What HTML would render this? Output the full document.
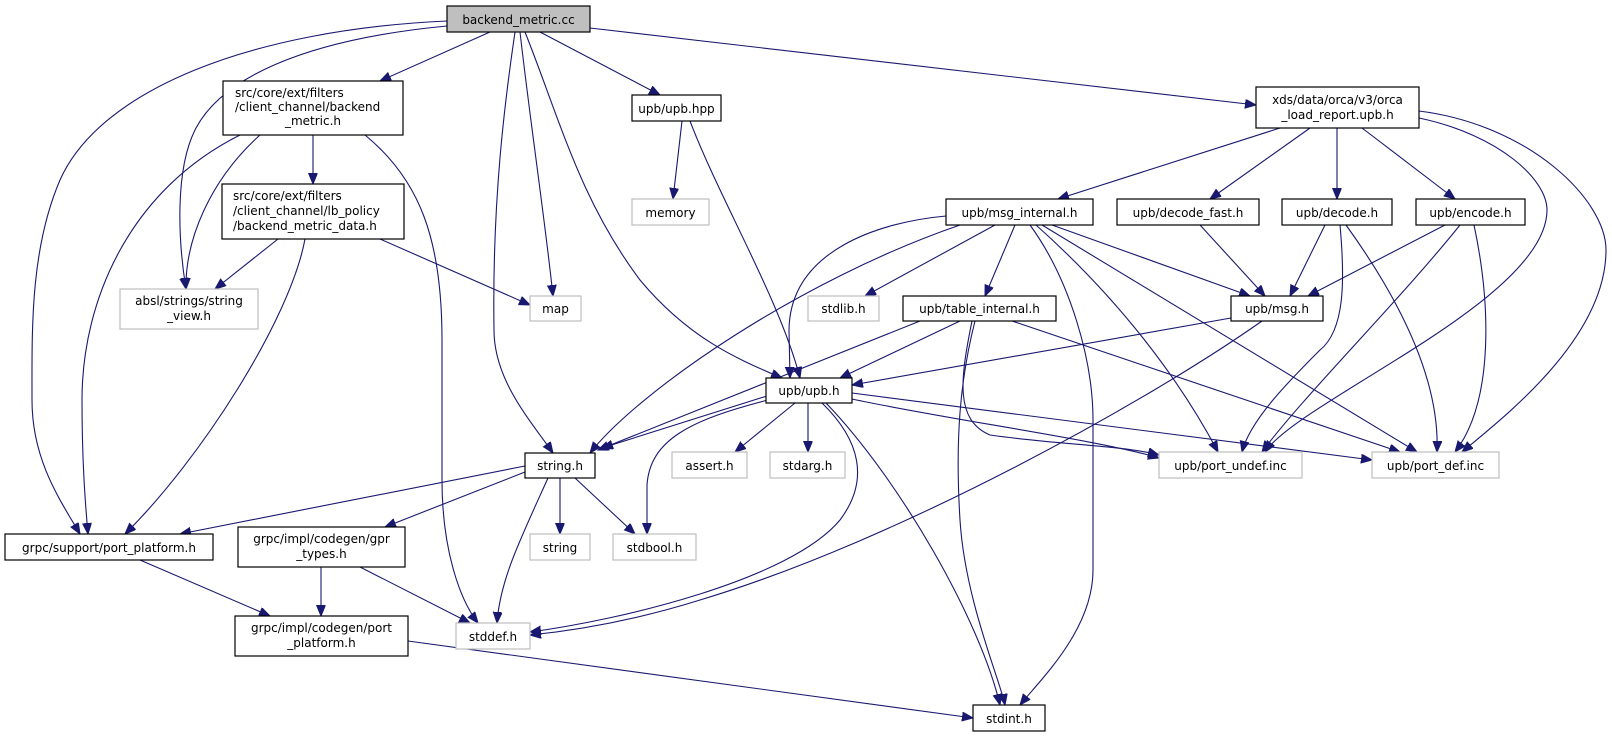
<!DOCTYPE html>
<html><head><meta charset="utf-8"><style>
html,body{margin:0;padding:0;background:#fff;}
svg{display:block;}
text{font-family:"DejaVu Sans","Liberation Sans",sans-serif;font-size:12px;fill:#000;}
.e{fill:none;stroke:#191970;stroke-width:1.1;marker-end:url(#a);}
.n{fill:#fff;stroke:#000;stroke-width:1.2;}
.g{fill:#fff;stroke:#bfbfbf;stroke-width:1.2;}
</style></head><body>
<svg width="1612" height="737" viewBox="0 0 1612 737" xmlns="http://www.w3.org/2000/svg">
<defs><marker id="a" markerUnits="userSpaceOnUse" markerWidth="12" markerHeight="10" refX="11" refY="4.5" orient="auto"><path d="M0,0 L11,4.5 L0,9 z" fill="#191970" stroke="#191970"/></marker></defs>
<path class="e" d="M447,21 C250,30 100,90 60,180 C30,250 32,330 32,400 C32,460 60,500 80,534"/>
<path class="e" d="M447,26 C300,40 220,80 195,130 C175,170 178,240 186,289"/>
<path class="e" d="M490,32 L380,81"/>
<path class="e" d="M515,32 C505,100 492,200 494,330 C494,380 530,420 553,453"/>
<path class="e" d="M520,32 C530,120 545,220 553,296"/>
<path class="e" d="M525,32 C560,120 580,200 640,280 C690,340 740,360 782,378"/>
<path class="e" d="M540,32 L660,95"/>
<path class="e" d="M590,28 L1256,105"/>
<path class="e" d="M240,135 C130,190 82,300 82,400 C82,460 85,500 88,534"/>
<path class="e" d="M260,135 C210,180 185,240 186,289"/>
<path class="e" d="M313,135 L313,184"/>
<path class="e" d="M365,135 C420,180 442,240 442,340 L442,480 C442,550 460,600 478,623"/>
<path class="e" d="M278,239 L215,289"/>
<path class="e" d="M305,239 C290,320 200,460 125,534"/>
<path class="e" d="M380,239 L530,305"/>
<path class="e" d="M682,121 L673,199"/>
<path class="e" d="M690,121 C720,200 780,300 800,378"/>
<path class="e" d="M1280,128 L1058,199"/>
<path class="e" d="M1310,128 L1210,199"/>
<path class="e" d="M1337,128 L1337,199"/>
<path class="e" d="M1362,128 L1455,199"/>
<path class="e" d="M1419,118 C1500,135 1547,180 1547,210 C1547,300 1300,400 1265,452"/>
<path class="e" d="M1419,111 C1530,125 1606,200 1606,250 C1606,340 1500,420 1462,452"/>
<path class="e" d="M960,225 C800,280 640,390 590,453"/>
<path class="e" d="M946,216 C880,222 790,250 789,330 L790,378"/>
<path class="e" d="M995,225 L865,296"/>
<path class="e" d="M1015,225 L985,296"/>
<path class="e" d="M1030,225 C1070,280 1093,360 1093,420 L1093,570 C1093,630 1040,680 1020,705"/>
<path class="e" d="M1036,225 C1120,300 1180,380 1218,452"/>
<path class="e" d="M1042,225 C1200,320 1330,400 1417,452"/>
<path class="e" d="M1052,225 L1250,296"/>
<path class="e" d="M1200,225 L1265,296"/>
<path class="e" d="M1325,225 L1290,296"/>
<path class="e" d="M1340,225 C1345,280 1345,330 1320,350 C1290,380 1250,420 1242,452"/>
<path class="e" d="M1346,225 C1400,300 1440,380 1437,452"/>
<path class="e" d="M1445,225 L1308,296"/>
<path class="e" d="M1460,225 C1400,300 1300,400 1262,452"/>
<path class="e" d="M1474,225 C1490,300 1495,400 1455,452"/>
<path class="e" d="M920,321 L598,450"/>
<path class="e" d="M960,321 L840,378"/>
<path class="e" d="M975,321 C960,380 955,440 960,520 C965,600 1000,680 1005,705"/>
<path class="e" d="M972,321 C960,380 955,420 990,435 C1060,445 1120,445 1159,455"/>
<path class="e" d="M1012,321 L1400,452"/>
<path class="e" d="M1231,318 L852,385"/>
<path class="e" d="M1262,321 C1150,400 900,540 700,600 C620,625 560,632 530,635"/>
<path class="e" d="M770,395 L602,448"/>
<path class="e" d="M768,400 C690,420 650,440 647,485 L647,534"/>
<path class="e" d="M795,403 L735,452"/>
<path class="e" d="M808,403 L808,452"/>
<path class="e" d="M822,403 C860,440 870,480 840,520 C790,580 620,620 530,632"/>
<path class="e" d="M826,403 C900,480 980,620 1000,705"/>
<path class="e" d="M852,399 C950,420 1100,440 1159,458"/>
<path class="e" d="M852,393 L1372,460"/>
<path class="e" d="M525,466 L180,534"/>
<path class="e" d="M525,472 L385,527"/>
<path class="e" d="M548,478 C520,540 500,580 497,623"/>
<path class="e" d="M560,478 L560,534"/>
<path class="e" d="M575,478 L635,534"/>
<path class="e" d="M140,560 L270,616"/>
<path class="e" d="M321,567 L321,616"/>
<path class="e" d="M360,567 L470,623"/>
<path class="e" d="M408,641 L973,718"/>
<rect x="447" y="6" width="143" height="26" fill="#bfbfbf" stroke="#000" stroke-width="1.2"/>
<text x="518.5" y="24" text-anchor="middle">backend_metric.cc</text>
<rect class="n" x="223" y="81" width="180" height="54"/>
<text x="235" y="97">src/core/ext/filters</text>
<text x="235" y="111">/client_channel/backend</text>
<text x="313" y="125" text-anchor="middle">_metric.h</text>
<rect class="n" x="632" y="95" width="89" height="26"/>
<text x="676.5" y="113" text-anchor="middle">upb/upb.hpp</text>
<rect class="n" x="1256" y="87" width="163" height="41"/>
<text x="1337.5" y="104" text-anchor="middle">xds/data/orca/v3/orca</text>
<text x="1337.5" y="119" text-anchor="middle">_load_report.upb.h</text>
<rect class="n" x="222" y="184" width="182" height="55"/>
<text x="233" y="200">src/core/ext/filters</text>
<text x="233" y="215">/client_channel/lb_policy</text>
<text x="233" y="230">/backend_metric_data.h</text>
<rect class="g" x="632" y="199" width="77" height="26"/>
<text x="670.5" y="217" text-anchor="middle">memory</text>
<rect class="g" x="120" y="289" width="138" height="40"/>
<text x="189" y="305" text-anchor="middle">absl/strings/string</text>
<text x="189" y="320" text-anchor="middle">_view.h</text>
<rect class="g" x="530" y="296" width="51" height="25"/>
<text x="555.5" y="313" text-anchor="middle">map</text>
<rect class="n" x="946" y="199" width="147" height="26"/>
<text x="1019.5" y="217" text-anchor="middle">upb/msg_internal.h</text>
<rect class="n" x="1117" y="199" width="142" height="26"/>
<text x="1188" y="217" text-anchor="middle">upb/decode_fast.h</text>
<rect class="n" x="1282" y="199" width="110" height="26"/>
<text x="1337" y="217" text-anchor="middle">upb/decode.h</text>
<rect class="n" x="1416" y="199" width="109" height="26"/>
<text x="1470.5" y="217" text-anchor="middle">upb/encode.h</text>
<rect class="g" x="808" y="296" width="71" height="25"/>
<text x="843.5" y="313" text-anchor="middle">stdlib.h</text>
<rect class="n" x="903" y="296" width="153" height="25"/>
<text x="979.5" y="313" text-anchor="middle">upb/table_internal.h</text>
<rect class="n" x="1231" y="296" width="92" height="25"/>
<text x="1277" y="313" text-anchor="middle">upb/msg.h</text>
<rect class="n" x="766" y="378" width="86" height="25"/>
<text x="809" y="395" text-anchor="middle">upb/upb.h</text>
<rect class="n" x="525" y="453" width="70" height="25"/>
<text x="560" y="470" text-anchor="middle">string.h</text>
<rect class="g" x="672" y="452" width="75" height="26"/>
<text x="709.5" y="470" text-anchor="middle">assert.h</text>
<rect class="g" x="770" y="452" width="75" height="26"/>
<text x="807.5" y="470" text-anchor="middle">stdarg.h</text>
<rect class="g" x="1159" y="452" width="143" height="26"/>
<text x="1230.5" y="470" text-anchor="middle">upb/port_undef.inc</text>
<rect class="g" x="1372" y="452" width="127" height="26"/>
<text x="1435.5" y="470" text-anchor="middle">upb/port_def.inc</text>
<rect class="n" x="5" y="534" width="208" height="26"/>
<text x="109" y="552" text-anchor="middle">grpc/support/port_platform.h</text>
<rect class="n" x="238" y="527" width="167" height="40"/>
<text x="321.5" y="543" text-anchor="middle">grpc/impl/codegen/gpr</text>
<text x="321.5" y="558" text-anchor="middle">_types.h</text>
<rect class="g" x="530" y="534" width="60" height="26"/>
<text x="560" y="552" text-anchor="middle">string</text>
<rect class="g" x="613" y="534" width="83" height="26"/>
<text x="654.5" y="552" text-anchor="middle">stdbool.h</text>
<rect class="g" x="456" y="623" width="74" height="26"/>
<text x="493" y="641" text-anchor="middle">stddef.h</text>
<rect class="n" x="235" y="616" width="173" height="40"/>
<text x="321.5" y="632" text-anchor="middle">grpc/impl/codegen/port</text>
<text x="321.5" y="647" text-anchor="middle">_platform.h</text>
<rect class="n" x="973" y="705" width="72" height="26"/>
<text x="1009" y="723" text-anchor="middle">stdint.h</text>
</svg>
</body></html>
